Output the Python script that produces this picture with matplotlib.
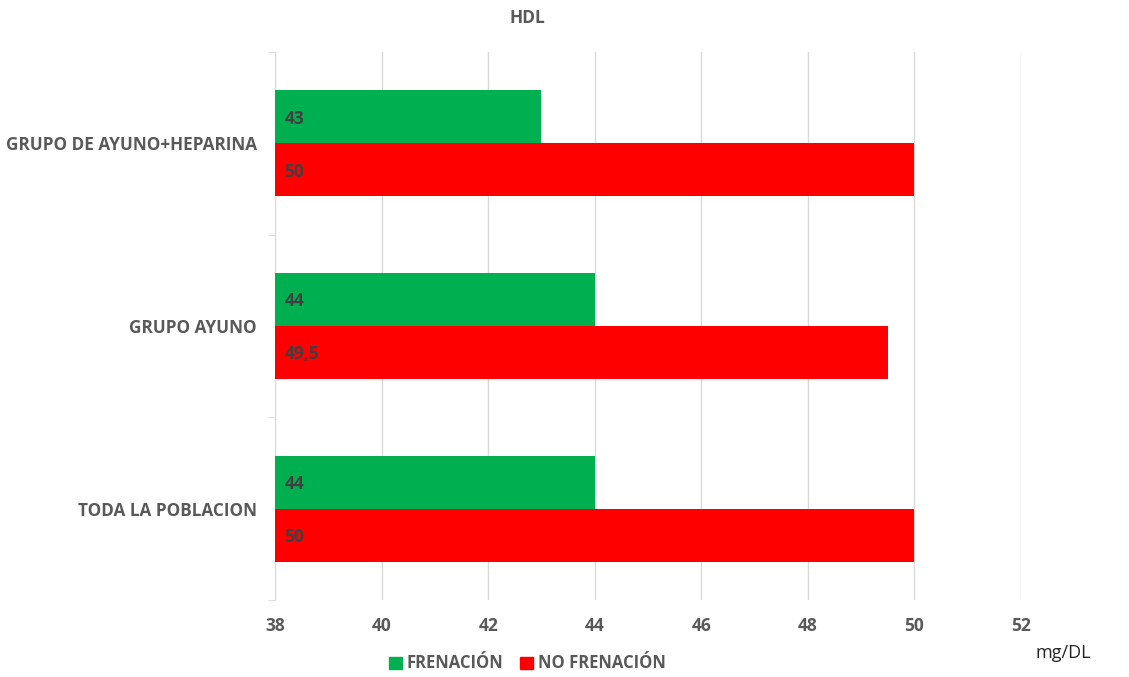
"""Gráfico de barras horizontales HDL"""

import numpy as np
import matplotlib
matplotlib.use("Agg")
import matplotlib.pyplot as plt
from matplotlib.patches import Patch

categorias = ["TODA LA POBLACION", "GRUPO AYUNO", "GRUPO DE AYUNO+HEPARINA"]
frenacion = [44, 44, 43]
no_frenacion = [50, 49.5, 50]
etiquetas_fr = ["44", "44", "43"]
etiquetas_nofr = ["50", "49,5", "50"]
ticks_x = [38, 40, 42, 44, 46, 48, 50, 52]

VERDE = "#00b050"
ROJO = "#ff0000"
GRIS = "#595959"
BASE = 38

plt.rcParams["font.family"] = ["Open Sans", "DejaVu Sans"]

fig = plt.figure(figsize=(11.29, 6.77), dpi=100)
ax = fig.add_axes([0.2436, 0.1137, 0.6607, 0.8095])

y = np.arange(len(categorias))
alto = 0.29
ax.barh(y + alto / 2, np.array(frenacion) - BASE, left=BASE, height=alto,
        color=VERDE, zorder=3)
ax.barh(y - alto / 2, np.array(no_frenacion) - BASE, left=BASE, height=alto,
        color=ROJO, zorder=3)

for i in range(len(categorias)):
    ax.text(BASE + 0.18, y[i] + alto / 2 - 0.01, etiquetas_fr[i], va="center",
            ha="left", fontsize=12.5, fontweight="bold", color="#404040", zorder=4)
    ax.text(BASE + 0.18, y[i] - alto / 2 - 0.01, etiquetas_nofr[i], va="center",
            ha="left", fontsize=12.5, fontweight="bold", color="#404040", zorder=4)

ax.set_xlim(38, 52)
ax.set_ylim(-0.5, len(categorias) - 0.5)
ax.set_xticks(ticks_x)
ax.set_xticklabels([str(t) for t in ticks_x], fontsize=12.5, fontweight="bold",
                   color=GRIS)
ax.set_yticks(y)
ax.set_yticklabels(categorias, fontsize=12.3, fontweight="bold", color=GRIS)
ax.set_yticks(np.arange(-0.5, len(categorias), 1), minor=True)
ax.tick_params(axis="y", which="major", length=0, pad=13)
ax.tick_params(axis="y", which="minor", length=5, color="#d9d9d9")
ax.tick_params(axis="x", length=0, pad=12)

ax.grid(axis="x", color="#d9d9d9", linewidth=1, zorder=0)
for lado in ["top", "right", "bottom"]:
    ax.spines[lado].set_visible(False)
ax.spines["left"].set_color("#d9d9d9")

fig.text(0.467, 0.973, "HDL", fontsize=12.5, fontweight="bold", color=GRIS,
         ha="center", va="center")

fig.text(0.917, 0.035, "mg/DL", fontsize=13, color="#262626", ha="left",
         va="center")

leyenda = [Patch(color=VERDE, label="FRENACIÓN"),
           Patch(color=ROJO, label="NO FRENACIÓN")]
fig.legend(handles=leyenda, loc="center", bbox_to_anchor=(0.467, 0.02),
           ncol=2, frameon=False, handlelength=0.75, handleheight=0.75,
           handletextpad=0.3, columnspacing=1.0,
           prop={"size": 12, "weight": "bold"}, labelcolor=GRIS)

fig.savefig("out.png", dpi=100)
